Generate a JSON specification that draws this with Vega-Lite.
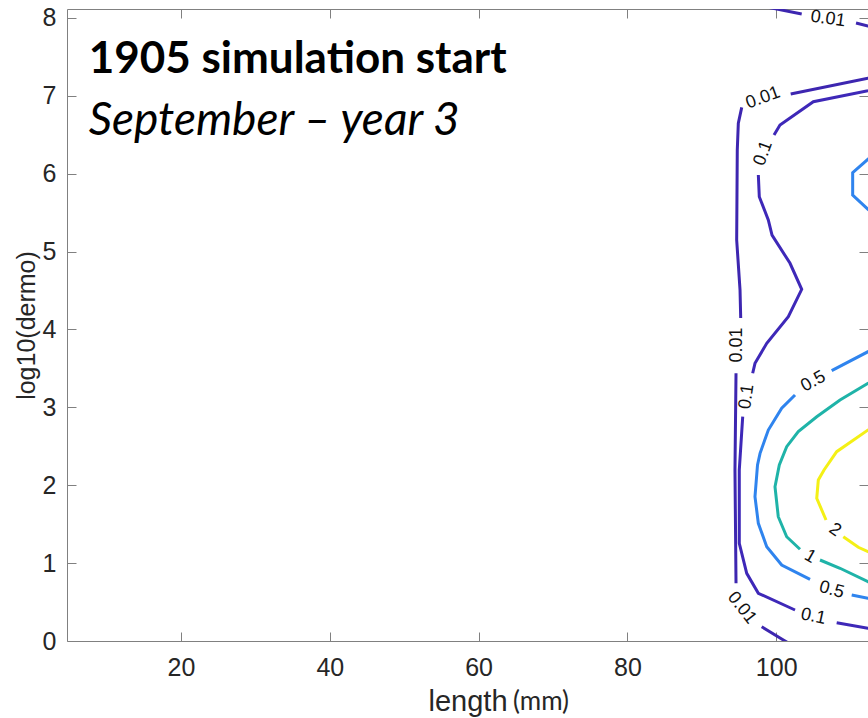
{
  "$schema": "https://vega.github.io/schema/vega-lite/v6.json",
  "autosize": {"type": "none"},
  "width": 801,
  "height": 632,
  "padding": {"left": 67, "top": 9, "right": 0, "bottom": 77},
  "background": "white",
  "config": {"view": {"stroke": null}},
  "datasets": {
    "lines": [
      {"level": "0.01", "seg": "A", "ord": 1, "x": 98.2, "y": 8.18},
      {"level": "0.01", "seg": "A", "ord": 2, "x": 98.94, "y": 8.137},
      {"level": "0.01", "seg": "A", "ord": 3, "x": 103.43, "y": 8.051},
      {"level": "0.01", "seg": "B", "ord": 1, "x": 110.73, "y": 7.936},
      {"level": "0.01", "seg": "B", "ord": 2, "x": 112.34, "y": 7.897},
      {"level": "0.01", "seg": "B", "ord": 3, "x": 113.3, "y": 7.878},
      {"level": "0.01", "seg": "C", "ord": 1, "x": 113.3, "y": 7.245},
      {"level": "0.01", "seg": "C", "ord": 2, "x": 112.34, "y": 7.226},
      {"level": "0.01", "seg": "C", "ord": 3, "x": 101.95, "y": 7.024},
      {"level": "0.01", "seg": "D", "ord": 1, "x": 95.37, "y": 6.853},
      {"level": "0.01", "seg": "D", "ord": 2, "x": 94.91, "y": 6.648},
      {"level": "0.01", "seg": "D", "ord": 3, "x": 94.77, "y": 6.305},
      {"level": "0.01", "seg": "D", "ord": 4, "x": 94.69, "y": 5.149},
      {"level": "0.01", "seg": "D", "ord": 5, "x": 95.14, "y": 4.507},
      {"level": "0.01", "seg": "D", "ord": 6, "x": 95.23, "y": 4.148},
      {"level": "0.01", "seg": "E", "ord": 1, "x": 94.6, "y": 3.438},
      {"level": "0.01", "seg": "E", "ord": 2, "x": 94.46, "y": 2.196},
      {"level": "0.01", "seg": "E", "ord": 3, "x": 94.6, "y": 0.741},
      {"level": "0.01", "seg": "F", "ord": 1, "x": 98.05, "y": 0.184},
      {"level": "0.01", "seg": "F", "ord": 2, "x": 100.96, "y": 0.013},
      {"level": "0.01", "seg": "F", "ord": 3, "x": 101.9, "y": -0.04},
      {"level": "0.1", "seg": "G", "ord": 1, "x": 113.3, "y": 7.088},
      {"level": "0.1", "seg": "G", "ord": 2, "x": 112.34, "y": 7.066},
      {"level": "0.1", "seg": "G", "ord": 3, "x": 104.99, "y": 6.925},
      {"level": "0.1", "seg": "G", "ord": 4, "x": 100.51, "y": 6.626},
      {"level": "0.1", "seg": "G", "ord": 5, "x": 99.71, "y": 6.498},
      {"level": "0.1", "seg": "H", "ord": 1, "x": 97.6, "y": 5.984},
      {"level": "0.1", "seg": "H", "ord": 2, "x": 97.73, "y": 5.705},
      {"level": "0.1", "seg": "H", "ord": 3, "x": 98.94, "y": 5.406},
      {"level": "0.1", "seg": "H", "ord": 4, "x": 99.44, "y": 5.213},
      {"level": "0.1", "seg": "H", "ord": 5, "x": 101.86, "y": 4.85},
      {"level": "0.1", "seg": "H", "ord": 6, "x": 103.43, "y": 4.516},
      {"level": "0.1", "seg": "H", "ord": 7, "x": 101.63, "y": 4.164},
      {"level": "0.1", "seg": "H", "ord": 8, "x": 98.73, "y": 3.823},
      {"level": "0.1", "seg": "H", "ord": 9, "x": 97.15, "y": 3.566},
      {"level": "0.1", "seg": "H", "ord": 10, "x": 96.84, "y": 3.438},
      {"level": "0.1", "seg": "I", "ord": 1, "x": 95.5, "y": 2.88},
      {"level": "0.1", "seg": "I", "ord": 2, "x": 95.04, "y": 2.196},
      {"level": "0.1", "seg": "I", "ord": 3, "x": 95.04, "y": 1.255},
      {"level": "0.1", "seg": "I", "ord": 4, "x": 96.04, "y": 0.869},
      {"level": "0.1", "seg": "I", "ord": 5, "x": 97.6, "y": 0.613},
      {"level": "0.1", "seg": "I", "ord": 6, "x": 102.53, "y": 0.398},
      {"level": "0.1", "seg": "J", "ord": 1, "x": 108.13, "y": 0.235},
      {"level": "0.1", "seg": "J", "ord": 2, "x": 112.34, "y": 0.163},
      {"level": "0.1", "seg": "J", "ord": 3, "x": 113.3, "y": 0.148},
      {"level": "0.5", "seg": "HEX", "ord": 1, "x": 113.3, "y": 6.26},
      {"level": "0.5", "seg": "HEX", "ord": 2, "x": 112.34, "y": 6.186},
      {"level": "0.5", "seg": "HEX", "ord": 3, "x": 110.28, "y": 6.014},
      {"level": "0.5", "seg": "HEX", "ord": 4, "x": 110.28, "y": 5.727},
      {"level": "0.5", "seg": "HEX", "ord": 5, "x": 112.34, "y": 5.543},
      {"level": "0.5", "seg": "HEX", "ord": 6, "x": 113.3, "y": 5.47},
      {"level": "0.5", "seg": "K", "ord": 1, "x": 113.3, "y": 3.762},
      {"level": "0.5", "seg": "K", "ord": 2, "x": 112.34, "y": 3.715},
      {"level": "0.5", "seg": "K", "ord": 3, "x": 107.46, "y": 3.471},
      {"level": "0.5", "seg": "L", "ord": 1, "x": 102.53, "y": 3.159},
      {"level": "0.5", "seg": "L", "ord": 2, "x": 100.74, "y": 2.988},
      {"level": "0.5", "seg": "L", "ord": 3, "x": 98.94, "y": 2.709},
      {"level": "0.5", "seg": "L", "ord": 4, "x": 97.83, "y": 2.41},
      {"level": "0.5", "seg": "L", "ord": 5, "x": 97.49, "y": 2.26},
      {"level": "0.5", "seg": "L", "ord": 6, "x": 97.15, "y": 1.853},
      {"level": "0.5", "seg": "L", "ord": 7, "x": 97.6, "y": 1.511},
      {"level": "0.5", "seg": "L", "ord": 8, "x": 98.73, "y": 1.211},
      {"level": "0.5", "seg": "L", "ord": 9, "x": 100.74, "y": 0.976},
      {"level": "0.5", "seg": "L", "ord": 10, "x": 104.55, "y": 0.792},
      {"level": "0.5", "seg": "M", "ord": 1, "x": 110.15, "y": 0.591},
      {"level": "0.5", "seg": "M", "ord": 2, "x": 112.34, "y": 0.548},
      {"level": "0.5", "seg": "M", "ord": 3, "x": 113.3, "y": 0.533},
      {"level": "1", "seg": "N", "ord": 1, "x": 113.3, "y": 3.352},
      {"level": "1", "seg": "N", "ord": 2, "x": 112.34, "y": 3.309},
      {"level": "1", "seg": "N", "ord": 3, "x": 108.58, "y": 3.095},
      {"level": "1", "seg": "N", "ord": 4, "x": 105.45, "y": 2.88},
      {"level": "1", "seg": "N", "ord": 5, "x": 102.97, "y": 2.688},
      {"level": "1", "seg": "N", "ord": 6, "x": 101.41, "y": 2.495},
      {"level": "1", "seg": "N", "ord": 7, "x": 100.42, "y": 2.26},
      {"level": "1", "seg": "N", "ord": 8, "x": 99.84, "y": 1.981},
      {"level": "1", "seg": "N", "ord": 9, "x": 100.28, "y": 1.596},
      {"level": "1", "seg": "N", "ord": 10, "x": 101.41, "y": 1.339},
      {"level": "1", "seg": "N", "ord": 11, "x": 103.2, "y": 1.178},
      {"level": "1", "seg": "O", "ord": 1, "x": 105.89, "y": 1.04},
      {"level": "1", "seg": "O", "ord": 2, "x": 108.58, "y": 0.934},
      {"level": "1", "seg": "O", "ord": 3, "x": 112.34, "y": 0.761},
      {"level": "1", "seg": "O", "ord": 4, "x": 113.3, "y": 0.719},
      {"level": "2", "seg": "P", "ord": 1, "x": 113.3, "y": 2.748},
      {"level": "2", "seg": "P", "ord": 2, "x": 112.34, "y": 2.709},
      {"level": "2", "seg": "P", "ord": 3, "x": 108.13, "y": 2.431},
      {"level": "2", "seg": "P", "ord": 4, "x": 106.43, "y": 2.196},
      {"level": "2", "seg": "P", "ord": 5, "x": 105.66, "y": 2.067},
      {"level": "2", "seg": "P", "ord": 6, "x": 105.45, "y": 1.832},
      {"level": "2", "seg": "P", "ord": 7, "x": 106.7, "y": 1.554},
      {"level": "2", "seg": "Q", "ord": 1, "x": 109.02, "y": 1.339},
      {"level": "2", "seg": "Q", "ord": 2, "x": 111.04, "y": 1.203},
      {"level": "2", "seg": "Q", "ord": 3, "x": 112.34, "y": 1.147},
      {"level": "2", "seg": "Q", "ord": 4, "x": 113.3, "y": 1.111}
    ],
    "labels": [
      {"label": "0.01", "x": 106.96, "y": 7.987, "ang": 8},
      {"label": "0.01", "x": 98.23, "y": 6.973, "ang": -20},
      {"label": "0.1", "x": 98.27, "y": 6.263, "ang": -70},
      {"label": "0.01", "x": 94.69, "y": 3.801, "ang": -90},
      {"label": "0.1", "x": 96.04, "y": 3.137, "ang": -82},
      {"label": "0.5", "x": 104.99, "y": 3.33, "ang": -29},
      {"label": "0.01", "x": 95.37, "y": 0.424, "ang": 52},
      {"label": "0.1", "x": 104.99, "y": 0.312, "ang": 12},
      {"label": "0.5", "x": 107.46, "y": 0.655, "ang": 15},
      {"label": "1", "x": 104.55, "y": 1.083, "ang": 30},
      {"label": "2", "x": 107.91, "y": 1.425, "ang": 35}
    ]
  },
  "resolve": {"axis": {"x": "independent", "y": "independent"}},
  "layer": [
    {
      "data": {"name": "lines"},
      "mark": {"type": "line", "strokeWidth": 3, "clip": true, "strokeCap": "butt"},
      "encoding": {
        "x": {"field": "x", "type": "quantitative",
          "scale": {"domain": [4.68, 112.34], "nice": false, "zero": false},
          "axis": {"orient": "bottom", "values": [20, 40, 60, 80, 100], "tickSize": -9, "labelPadding": 23,
            "domainColor": "#808080", "tickColor": "#808080", "grid": false,
            "labelFont": "Liberation Sans", "labelFontSize": 25, "labelColor": "#262626",
            "title": "length", "titleFont": "Liberation Sans", "titleFontSize": 29, "titleFontWeight": "normal",
            "titleColor": "#262626", "titleBaseline": "alphabetic", "titleY": 69}},
        "y": {"field": "y", "type": "quantitative",
          "scale": {"domain": [0, 8.1155], "nice": false, "zero": false},
          "axis": {"orient": "left", "values": [0, 1, 2, 3, 4, 5, 6, 7, 8], "tickSize": -9, "labelPadding": 20,
            "domainColor": "#808080", "tickColor": "#808080", "grid": false,
            "labelFont": "Liberation Sans", "labelFontSize": 25, "labelColor": "#262626",
            "title": "log10(dermo)", "titleFont": "Liberation Sans", "titleFontSize": 25, "titleFontWeight": "normal",
            "titleColor": "#262626", "titleBaseline": "alphabetic", "titleX": -33}},
        "color": {"field": "level", "type": "nominal", "legend": null,
          "scale": {"domain": ["0.01", "0.1", "0.5", "1", "2"],
            "range": ["#3d26b0", "#3e28b8", "#2f84ee", "#1fb3a8", "#f4f016"]}},
        "detail": {"field": "seg"},
        "order": {"field": "ord", "type": "quantitative"}
      }
    },
    {
      "data": {"name": "labels"},
      "mark": {"type": "text", "font": "Liberation Sans", "fontSize": 18, "color": "#111111", "align": "center", "baseline": "middle"},
      "encoding": {
        "x": {"field": "x", "type": "quantitative",
          "axis": {"orient": "top", "values": [20, 40, 60, 80, 100], "tickSize": -9, "labels": false, "title": null,
            "domainColor": "#808080", "tickColor": "#808080", "grid": false}},
        "y": {"field": "y", "type": "quantitative",
          "axis": {"orient": "right", "values": [1, 2, 3, 4, 5, 6, 7, 8], "tickSize": -9, "labels": false, "title": null,
            "domain": false, "tickColor": "#808080", "grid": false}},
        "text": {"field": "label"},
        "angle": {"field": "ang", "type": "quantitative", "scale": null}
      }
    },
    {
      "data": {"values": [{}]},
      "mark": {"type": "text", "text": "1905 simulation start", "font": "Lato", "fontWeight": "bold", "fontSize": 44, "color": "#000000", "align": "left", "baseline": "alphabetic"},
      "encoding": {
        "x": {"datum": 7.6, "type": "quantitative", "axis": null},
        "y": {"datum": 7.294, "type": "quantitative", "axis": null}
      }
    },
    {
      "data": {"values": [{}]},
      "mark": {"type": "text", "text": "September – year 3", "font": "Lato", "fontStyle": "italic", "fontSize": 46, "color": "#000000", "align": "left", "baseline": "alphabetic"},
      "encoding": {
        "x": {"datum": 7.6, "type": "quantitative", "axis": null},
        "y": {"datum": 6.498, "type": "quantitative", "axis": null}
      }
    },
    {
      "data": {"values": [{}]},
      "mark": {"type": "text", "text": "(mm)", "font": "Lato", "fontSize": 26, "color": "#262626", "align": "left", "baseline": "alphabetic"},
      "encoding": {
        "x": {"datum": 64.63, "type": "quantitative", "axis": null},
        "y": {"datum": -0.886, "type": "quantitative", "axis": null}
      }
    }
  ]
}
